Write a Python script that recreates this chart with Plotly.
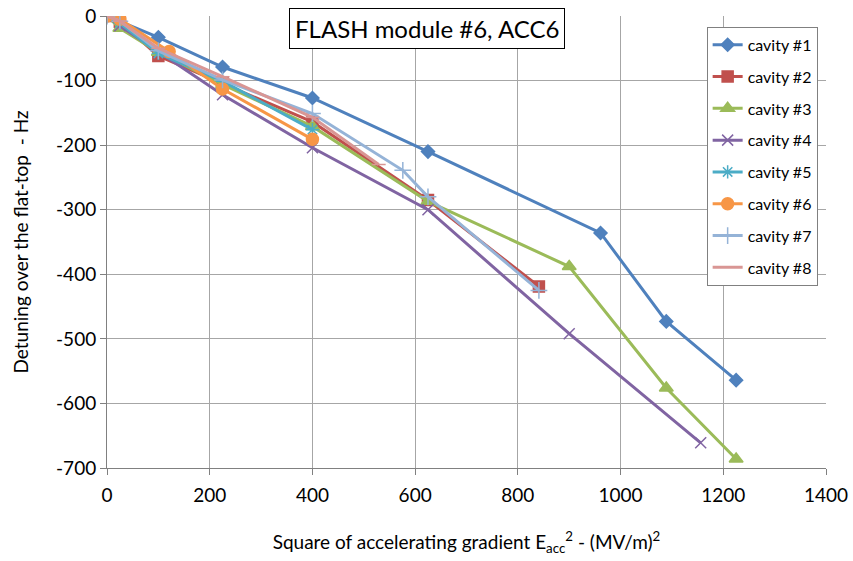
import plotly.graph_objects as go

# Data: x = Eacc^2 (MV/m)^2, y = detuning (Hz)
c1_x = [0, 100, 225, 400, 625, 961, 1089, 1225]
c1_y = [0, -33, -79, -127, -210, -336, -473, -564]
c2_x = [0, 25, 100, 225, 400, 625, 841]
c2_y = [0, -9, -62, -104, -164, -285, -419]
c3_x = [0, 25, 100, 225, 400, 625, 900, 1089, 1225]
c3_y = [0, -19, -56, -106, -171, -287, -388, -576, -686]
c4_x = [0, 25, 225, 400, 625, 900, 1156]
c4_y = [0, -15, -122, -204, -300, -492, -661]
c5_x = [0, 25, 100, 225, 400]
c5_y = [0, -11, -58, -101, -176]
c6_x = [0, 25, 121, 225, 400]
c6_y = [0, -5, -55, -113, -191]
c7_x = [0, 25, 100, 225, 400, 576, 625, 841]
c7_y = [0, -8, -54, -99, -151, -239, -280, -425]
c8_x = [0, 25, 100, 225, 400, 529]
c8_y = [0, -8, -50, -94, -157, -230]

names = ["cavity #1", "cavity #2", "cavity #3", "cavity #4",
         "cavity #5", "cavity #6", "cavity #7", "cavity #8"]
xs = [c1_x, c2_x, c3_x, c4_x, c5_x, c6_x, c7_x, c8_x]
ys = [c1_y, c2_y, c3_y, c4_y, c5_y, c6_y, c7_y, c8_y]

y_tickvals = [0, -100, -200, -300, -400, -500, -600, -700]
y_ticktext = ["0", "-100", "-200", "-300", "-400", "-500", "-600", "-700"]

colors = ["#4F81BD", "#C0504D", "#9BBB59", "#8064A2",
          "#4BACC6", "#F79646", "#95B3D7", "#D99694"]
symbols = ["diamond", "square", "triangle-up", "x-thin-open",
           "asterisk-open", "circle", "cross-thin-open", "line-ew-open"]
sizes = [10, 11, 12, 11, 11, 12, 12, 10]

fig = go.Figure()
for i in range(8):
    fig.add_trace(go.Scatter(
        x=xs[i], y=ys[i], name=names[i], mode="lines+markers",
        line=dict(color=colors[i], width=3),
        marker=dict(symbol=symbols[i], size=sizes[i], color=colors[i],
                    line=dict(color=colors[i], width=1.5)),
        legendgroup=str(i),
    ))

font = "Lato, Carlito, Calibri, sans-serif"
fig.update_layout(
    width=853, height=561,
    margin=dict(l=107, r=27, t=16, b=93),
    paper_bgcolor="white", plot_bgcolor="white",
    font=dict(family=font, size=19, color="black"),
    showlegend=True,
    legend=dict(x=0.834, y=0.976, xanchor="left", yanchor="top",
                bgcolor="white", bordercolor="#808080", borderwidth=1,
                font=dict(size=16, color="black"), tracegroupgap=8,
                itemwidth=30),
    xaxis=dict(range=[0, 1400], dtick=200, tick0=0, automargin=False,
               showgrid=True, gridcolor="#A6A6A6", gridwidth=1,
               showline=True, linecolor="#808080", linewidth=1,
               ticks="outside", ticklen=6, tickcolor="#808080",
               ticklabelstandoff=4,
               zeroline=False, tickfont=dict(size=19),
               title=dict(text="Square of accelerating gradient E<sub>acc</sub><sup>2</sup> - (MV/m)<sup>2</sup>",
                          font=dict(size=19), standoff=30)),
    yaxis=dict(range=[-700, 0], tickvals=y_tickvals, ticktext=y_ticktext,
               automargin=False,
               showgrid=True, gridcolor="#A6A6A6", gridwidth=1,
               showline=True, linecolor="#808080", linewidth=1,
               ticks="outside", ticklen=6, tickcolor="#808080",
               zeroline=False, tickfont=dict(size=19),
               title=dict(text="Detuning over the flat-top  - Hz",
                          font=dict(size=19), standoff=22)),
    annotations=[dict(
        text="FLASH module #6, ACC6", xref="paper", yref="paper",
        x=0.445, y=0.972, xanchor="center", yanchor="middle",
        showarrow=False, font=dict(size=24, color="black"),
        bgcolor="white", bordercolor="black", borderwidth=1, borderpad=5)],
)

fig.write_html("out.html")
